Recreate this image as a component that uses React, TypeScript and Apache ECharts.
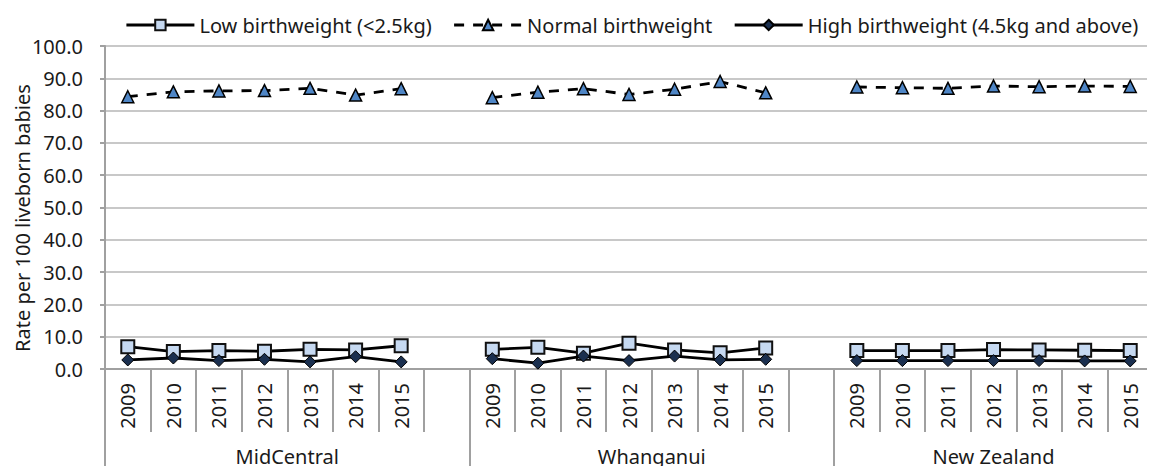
import React, { useEffect, useRef } from "react";
import * as echarts from "echarts";

const groups = ["MidCentral", "Whanganui", "New Zealand"];
const years = ["2009", "2010", "2011", "2012", "2013", "2014", "2015"];
const yTicks = [0, 10, 20, 30, 40, 50, 60, 70, 80, 90, 100];
const yTitle = "Rate per 100 liveborn babies";

const lowMid = [6.9, 5.4, 5.7, 5.5, 6.1, 5.9, 7.2];
const lowWha = [6.1, 6.7, 4.9, 8.0, 5.9, 5.0, 6.5];
const lowNZ = [5.7, 5.7, 5.7, 6.0, 5.9, 5.8, 5.7];

const normMid = [84.3, 85.8, 86.1, 86.2, 86.9, 84.8, 86.8];
const normWha = [84.0, 85.7, 86.8, 85.0, 86.6, 89.0, 85.5];
const normNZ = [87.3, 87.1, 86.9, 87.6, 87.4, 87.6, 87.5];

const highMid = [2.8, 3.4, 2.6, 3.0, 2.2, 3.8, 2.2];
const highWha = [3.2, 1.8, 4.0, 2.6, 4.0, 2.8, 3.0];
const highNZ = [2.6, 2.6, 2.6, 2.6, 2.6, 2.5, 2.5];

const seriesNames = [
  "Low birthweight (<2.5kg)",
  "Normal birthweight",
  "High birthweight (4.5kg and above)",
];

const FONT = "'Noto Sans', 'Open Sans', sans-serif";
const FS = 20;
const TXT = "#1a1a1a";

function joinGroups<T>(a: T[], b: T[], c: T[], gap: T): T[] {
  return [...a, gap, ...b, gap, ...c];
}

export default function App() {
  const ref = useRef<HTMLDivElement>(null);

  useEffect(() => {
    if (!ref.current) return;
    const chart = echarts.init(ref.current, undefined, { renderer: "svg" });

    const categories = joinGroups<string>(years, years, years, "");
    const lowData = joinGroups<number | null>(lowMid, lowWha, lowNZ, null);
    const normData = joinGroups<number | null>(normMid, normWha, normNZ, null);
    const highData = joinGroups<number | null>(highMid, highWha, highNZ, null);

    const n = categories.length;
    const g = years.length + 1;
    const boundaries = [0, g, 2 * g, n];
    const centers = [g / 2, g + g / 2, (2 * g + n) / 2];

    const axisGray = "#a0a0a0";

    chart.setOption({
      animation: false,
      textStyle: { fontFamily: FONT },
      legend: {
        left: 120,
        top: 10,
        itemWidth: 68,
        itemHeight: 13,
        itemGap: 21,
        lineStyle: { width: 2.8 },
        textStyle: { fontSize: FS, color: TXT, fontFamily: FONT },
        data: seriesNames,
      },
      graphic: [
        {
          type: "text",
          x: 22,
          y: 218,
          rotation: Math.PI / 2,
          style: {
            text: yTitle,
            fontSize: FS,
            fontFamily: FONT,
            fill: TXT,
            align: "center",
            verticalAlign: "middle",
          },
        },
      ],
      grid: { left: 105, right: 2, top: 46, bottom: 105, containLabel: false },
      xAxis: [
        {
          type: "category",
          data: categories,
          boundaryGap: true,
          position: "bottom",
          axisLine: { show: true, lineStyle: { color: axisGray, width: 2 } },
          axisTick: {
            show: true,
            interval: 0,
            length: 63,
            lineStyle: { color: axisGray, width: 2 },
          },
          axisLabel: {
            interval: 0,
            rotate: 90,
            margin: 14,
            fontSize: FS,
            color: TXT,
            fontFamily: FONT,
          },
          splitLine: { show: false },
        },
        {
          type: "value",
          min: 0,
          max: n,
          position: "bottom",
          axisLine: { show: false },
          splitLine: { show: false },
          axisTick: {
            show: true,
            customValues: boundaries,
            length: 105,
            lineStyle: { color: axisGray, width: 2 },
          },
          axisLabel: {
            show: true,
            customValues: centers,
            margin: 77,
            fontSize: FS,
            color: TXT,
            fontFamily: FONT,
            formatter: (v: number) => {
              const i = centers.indexOf(v);
              return i >= 0 ? groups[i] : "";
            },
          },
        },
      ],
      yAxis: [
        {
          type: "value",
          min: 0,
          max: 100,
          interval: 10,
          axisLine: { show: true, lineStyle: { color: axisGray, width: 2 } },
          axisTick: { show: true, length: 5, lineStyle: { color: axisGray, width: 2 } },
          axisLabel: {
            margin: 22,
            fontSize: FS,
            color: TXT,
            fontFamily: FONT,
            customValues: yTicks,
            formatter: (v: number) => v.toFixed(1),
          },
          splitLine: { show: true, lineStyle: { color: "#c8c8c8", width: 2 } },
        },
        {
          type: "value",
          min: 0,
          max: 100,
          position: "right",
          axisLine: { show: true, lineStyle: { color: "#c8c8c8", width: 2 } },
          axisTick: { show: false },
          axisLabel: { show: false },
          splitLine: { show: false },
        },
      ],
      series: [
        {
          name: seriesNames[0],
          type: "line",
          xAxisIndex: 0,
          yAxisIndex: 0,
          data: lowData,
          connectNulls: false,
          symbol: "rect",
          symbolSize: 13,
          itemStyle: { color: "#c6d9f1", borderColor: "#111", borderWidth: 2 },
          lineStyle: { color: "#000", width: 2.8 },
          z: 3,
        },
        {
          name: seriesNames[1],
          type: "line",
          xAxisIndex: 0,
          yAxisIndex: 0,
          data: normData,
          connectNulls: false,
          symbol: "triangle",
          symbolSize: 12,
          itemStyle: { color: "#4f86c6", borderColor: "#000", borderWidth: 1.5 },
          lineStyle: { color: "#000", width: 2.8, type: [10, 9] },
          z: 3,
        },
        {
          name: seriesNames[2],
          type: "line",
          xAxisIndex: 0,
          yAxisIndex: 0,
          data: highData,
          connectNulls: false,
          symbol: "diamond",
          symbolSize: 12,
          itemStyle: { color: "#1a2f4f", borderColor: "#000", borderWidth: 1 },
          lineStyle: { color: "#000", width: 2.8 },
          z: 4,
        },
      ],
    });

    return () => chart.dispose();
  }, []);

  return <div ref={ref} style={{ width: 1155, height: 474, margin: -8 }} />;
}
